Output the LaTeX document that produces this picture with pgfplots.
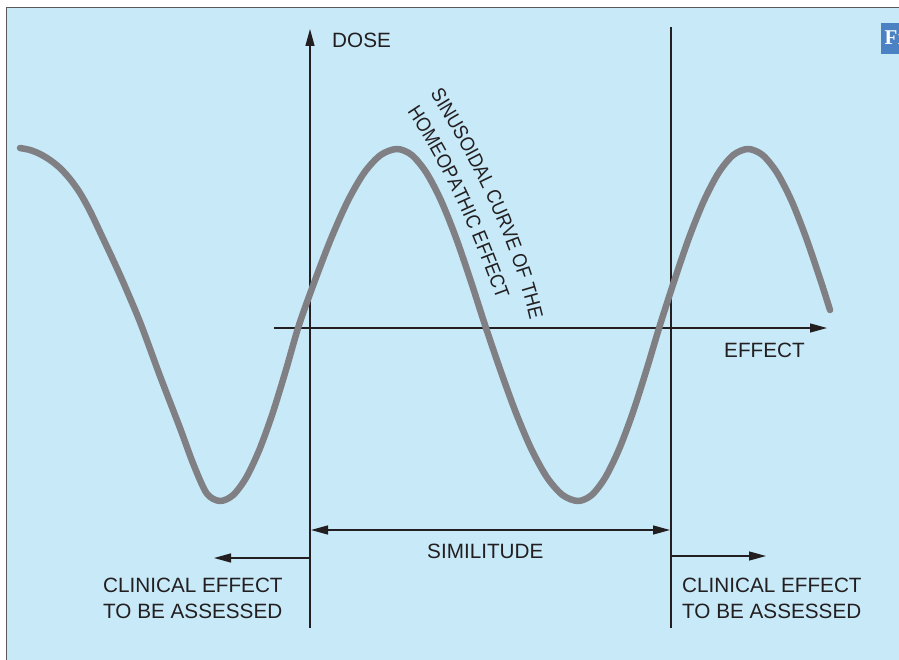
\documentclass[border=0pt]{standalone}
\usepackage{fontspec}
\setmainfont{Liberation Sans}
\newfontfamily\serifb{Liberation Serif}
\newfontfamily\narrowf[FakeStretch=0.9]{Liberation Sans}
\usepackage{pgfplots}
\pgfplotsset{compat=1.18}
\usetikzlibrary{arrows.meta,decorations.text}
\definecolor{bg}{RGB}{199,233,248}
\definecolor{curvec}{RGB}{128,128,132}
\definecolor{ink}{RGB}{35,31,32}
\definecolor{framec}{RGB}{90,90,90}
\definecolor{tagblue}{RGB}{75,130,195}
\begin{document}
\begin{tikzpicture}
\begin{axis}[
  width=899pt, height=660pt, scale only axis,
  xmin=0, xmax=899, ymin=0, ymax=660, y dir=reverse,
  hide axis, clip=true,
]
\coordinate (bl) at (0,660);
\coordinate (tr) at (899,0);
\fill[white] (0,0) rectangle (899,660);
\fill[bg] (7,8) rectangle (899,660);
\draw[framec, line width=1.8pt] (6.5,660) -- (6.5,7.5) -- (899,7.5);
\begin{scope}
\clip (860,0) rectangle (899,100);
\fill[tagblue] (881,23) rectangle (910,54);
\node[white, anchor=base west, inner sep=0pt, font=\serifb\bfseries\fontsize{21}{24}\selectfont] at (884.5,45) {Fi};
\end{scope}
% axes and guide lines
\draw[ink, line width=1.3pt, -{Triangle[length=17pt,width=9pt]}] (310,628) -- (310,29);
\draw[ink, line width=1.3pt, -{Triangle[length=17pt,width=9pt]}] (274,328) -- (827,328);
\draw[ink, line width=1.3pt] (671,628) -- (671,27);
\draw[ink, line width=1.3pt, {Triangle[length=17pt,width=9pt]}-{Triangle[length=17pt,width=9pt]}] (311,530) -- (670,530);
\draw[ink, line width=1.3pt, -{Triangle[length=17pt,width=9pt]}] (310,558) -- (214,558);
\draw[ink, line width=1.3pt, -{Triangle[length=17pt,width=9pt]}] (671,556) -- (766,556);
% sinusoidal curve
\addplot[curvec, line width=6.5pt, line cap=round, line join=round, smooth, mark=none] coordinates {
(20,148)(30,150)(40,154)(50,160)(60,168)(70,179)(80,193)(90,211)(100,232)(120,275)(140,322)(160,376)(180,428)(193.7,465)(206.8,493.5)(220,501)
(233.2,495)(246.3,477.4)(259.5,449.4)(272.7,413)(285.8,370.5)(299,325)
(315.3,279.5)(331.7,237)(348,200.6)(364.3,172.6)(380.7,155)(397,149)
(411.7,155)(426.3,172.6)(441,200.5)(455.7,237)(470.3,279.5)(485,325)
(500.5,370.5)(516,413)(531.5,449.4)(547,477.4)(562.5,495)(578,501)
(591.7,495)(605.3,477.4)(619,449.4)(632.7,413)(646.3,370.5)(660,325)
(674.7,279.5)(689.3,237)(704,200.6)(718.7,172.6)(733.3,155)(748,149)
(762.5,155)(776.9,172.6)(791.4,200.5)(805.8,237)(820.3,279.5)(830,310)
};
% labels
\node[ink, anchor=base west, inner sep=0pt, font=\fontsize{20.7}{24}\selectfont] at (332,48) {DOSE};
\node[ink, anchor=base west, inner sep=0pt, font=\fontsize{20.7}{24}\selectfont] at (724,357) {EFFECT};
\node[ink, anchor=base west, inner sep=0pt, font=\fontsize{20.7}{24}\selectfont] at (427,558) {SIMILITUDE};
\node[ink, anchor=base west, inner sep=0pt, font=\fontsize{20.7}{24}\selectfont] at (103,592) {CLINICAL EFFECT};
\node[ink, anchor=base west, inner sep=0pt, font=\fontsize{20.7}{24}\selectfont] at (103,618) {TO BE ASSESSED};
\node[ink, anchor=base west, inner sep=0pt, font=\fontsize{20.7}{24}\selectfont] at (682,592) {CLINICAL EFFECT};
\node[ink, anchor=base west, inner sep=0pt, font=\fontsize{20.7}{24}\selectfont] at (682,618) {TO BE ASSESSED};
% curved caption
\path[decorate, decoration={text along path, text align=left,
  text={|\color{ink}\narrowf\fontsize{20}{24}\selectfont|SINUSOIDAL CURVE OF THE}}]
  (430,94) .. controls (473,162) and (512,242) .. (530,320) -- (537,350);
\path[decorate, decoration={text along path, text align=left,
  text={|\color{ink}\narrowf\fontsize{20}{24}\selectfont|HOMEOPATHIC EFFECT}}]
  (407,112) .. controls (446,170) and (474,237) .. (498,303) -- (505,333);
\end{axis}
\pgfresetboundingbox
\path[use as bounding box] (bl) rectangle (tr);
\end{tikzpicture}
\end{document}
